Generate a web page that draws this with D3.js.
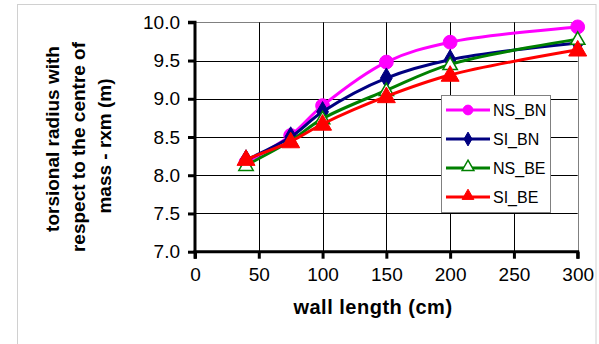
<!DOCTYPE html>
<html>
<head>
<meta charset="utf-8">
<script src="https://cdn.jsdelivr.net/npm/d3@7"></script>
<style>
  html, body { margin: 0; padding: 0; background: #fff; }
  svg { display: block; font-family: Arial, "Liberation Sans", sans-serif; }
</style>
</head>
<body>
<svg id="chart" width="599" height="344"></svg>
<script>
// ---- data ----
const wallLength = [40, 75, 100, 150, 200, 300];
const seriesNames = ["NS_BN", "SI_BN", "NS_BE", "SI_BE"];
const NS_BN = [8.17, 8.52, 8.91, 9.48, 9.74, 9.94];
const SI_BN = [8.20, 8.50, 8.83, 9.27, 9.51, 9.73];
const NS_BE = [8.13, 8.45, 8.74, 9.11, 9.45, 9.78];
const SI_BE = [8.21, 8.44, 8.67, 9.03, 9.31, 9.64];
const xTicks = [0, 50, 100, 150, 200, 250, 300];
const yTicks = [7.0, 7.5, 8.0, 8.5, 9.0, 9.5, 10.0];
const yTitleLines = ["torsional radius with", "respect to the centre of", "mass - rxm (m)"];
const xTitle = "wall length (cm)";

const seriesValues = [NS_BN, SI_BN, NS_BE, SI_BE];
const colors = ["#FF00FF", "#000080", "#008000", "#FF0000"];
const markers = ["circle", "diamond", "triangleOpen", "triangle"];

const svg = d3.select("#chart");

// outer frame
svg.append("rect").attr("x", 17.5).attr("y", 4.5).attr("width", 578.5).attr("height", 350)
  .attr("fill", "#fff").attr("stroke", "#d0d0d0").attr("stroke-width", 1);

const L = 195, R = 577.7, T = 22.3, B = 251.7;
const x = d3.scaleLinear().domain([0, 300]).range([L, R]);
const y = d3.scaleLinear().domain([7, 10]).range([B, T]);

// gridlines
const grid = svg.append("g");
grid.selectAll("line.h").data(yTicks.slice(1)).join("line")
  .attr("x1", L).attr("x2", R)
  .attr("y1", d => Math.round(y(d)) + 0.5).attr("y2", d => Math.round(y(d)) + 0.5)
  .attr("stroke", d => d === 10 ? "#808080" : "#000").attr("stroke-width", 1);
grid.selectAll("line.v").data(xTicks.slice(1)).join("line")
  .attr("y1", T).attr("y2", B)
  .attr("x1", d => Math.round(x(d)) + 0.5).attr("x2", d => Math.round(x(d)) + 0.5)
  .attr("stroke", d => d === 300 ? "#808080" : "#000").attr("stroke-width", 1);

// axes
const yAxis = d3.axisLeft(y).tickValues(yTicks).tickSize(7).tickPadding(8).tickFormat(d3.format(".1f"));
const xAxis = d3.axisBottom(x).tickValues(xTicks).tickSize(7).tickPadding(9).tickFormat(d3.format("d"));

const gy = svg.append("g").attr("transform", `translate(${L},0)`).call(yAxis);
const gx = svg.append("g").attr("transform", `translate(0,${B})`).call(xAxis);
[gx, gy].forEach(g => {
  g.select(".domain").attr("stroke", "#000").attr("stroke-width", 3);
  g.selectAll(".tick line").attr("stroke", "#000").attr("stroke-width", 3);
  g.selectAll(".tick text").attr("fill", "#000").style("font-size", "19px")
    .style("font-family", "Arial, 'Liberation Sans', sans-serif");
});
gy.select(".domain").attr("d", `M-7,${T}H0V${B}`);
gx.select(".domain").attr("d", `M${L},7V0H${R}V7`);

// lines
const line = d3.line().x(d => x(d[0])).y(d => y(d[1])).curve(d3.curveCatmullRom.alpha(0.5));
const symbolFor = (m, big) => {
  if (m === "circle") return d3.symbol(d3.symbolCircle, big ? 150 : 75)();
  if (m === "diamond") return d3.symbol(d3.symbolDiamond, big ? 120 : 55)();
  return d3.symbol(d3.symbolTriangle, big ? (m === "triangle" ? 140 : 90) : 60)();
};

seriesValues.forEach((vals, i) => {
  const pts = wallLength.map((w, j) => [w, vals[j]]);
  const g = svg.append("g");
  g.append("path").attr("d", line(pts)).attr("fill", "none")
    .attr("stroke", colors[i]).attr("stroke-width", 3);
  g.selectAll("path.m").data(pts).join("path")
    .attr("transform", d => `translate(${x(d[0])},${y(d[1]) + (markers[i].startsWith("triangle") ? 1 : 0)})`)
    .attr("d", symbolFor(markers[i], true))
    .attr("fill", markers[i] === "triangleOpen" ? "#fff" : colors[i])
    .attr("stroke", colors[i]).attr("stroke-width", markers[i] === "triangleOpen" ? 1.5 : 1);
});

// legend
const lg = svg.append("g");
lg.append("rect").attr("x", 441.5).attr("y", 95.5).attr("width", 109).attr("height", 117)
  .attr("fill", "#fff").attr("stroke", "#808080").attr("stroke-width", 1);
const legendY = [110, 139, 168, 197];
seriesNames.forEach((name, i) => {
  const cy = legendY[i];
  lg.append("line").attr("x1", 446).attr("x2", 490).attr("y1", cy).attr("y2", cy)
    .attr("stroke", colors[i]).attr("stroke-width", 3);
  lg.append("path").attr("transform", `translate(468,${cy + (markers[i].startsWith("triangle") ? -1 : 0)})`)
    .attr("d", symbolFor(markers[i], false))
    .attr("fill", markers[i] === "triangleOpen" ? "#fff" : colors[i])
    .attr("stroke", colors[i]).attr("stroke-width", markers[i] === "triangleOpen" ? 1.5 : 1);
  lg.append("text").attr("x", 493).attr("y", cy + 6).attr("fill", "#000")
    .style("font-size", "16px").text(name);
});

// axis titles
svg.append("text").attr("x", 373).attr("y", 314).attr("text-anchor", "middle")
  .style("font-size", "20px").style("font-weight", "bold").style("letter-spacing", "0.5px")
  .attr("fill", "#000").text(xTitle);

const yTitleX = [59, 85, 111];
const yTitleC = [139, 147, 146];
yTitleLines.forEach((t, i) => {
  svg.append("text")
    .attr("transform", `translate(${yTitleX[i]},${yTitleC[i]}) rotate(-90)`)
    .attr("text-anchor", "middle")
    .style("font-size", "19px").style("font-weight", "bold")
    .attr("fill", "#000").text(t);
});
</script>
</body>
</html>
